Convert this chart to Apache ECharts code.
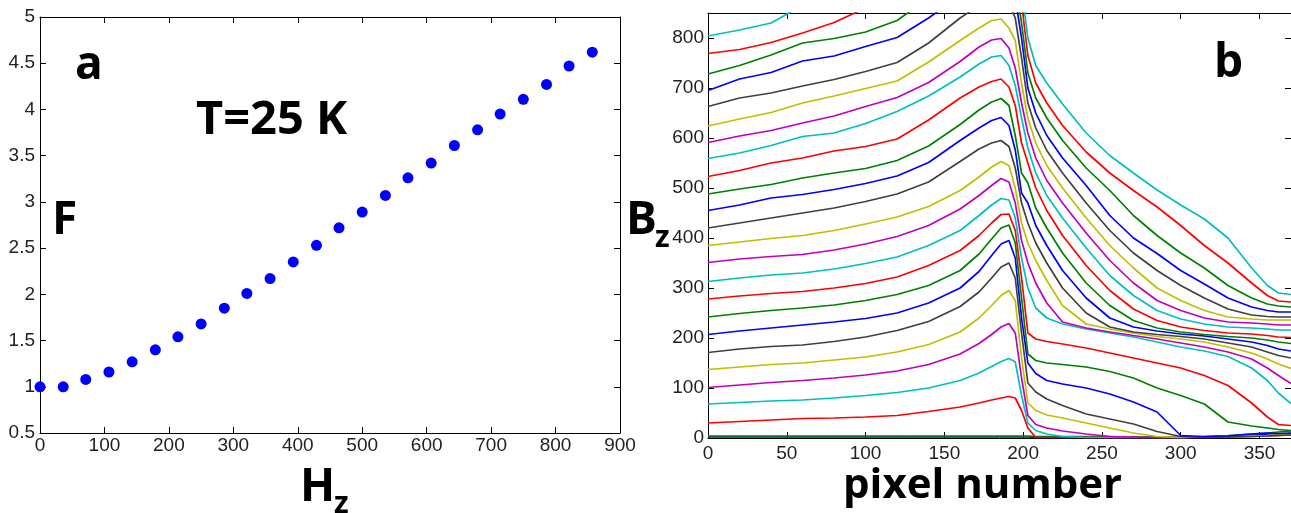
<!DOCTYPE html>
<html><head><meta charset="utf-8">
<script src="https://cdn.jsdelivr.net/npm/echarts@6/dist/echarts.min.js"></script>
<style>html,body{margin:0;padding:0;background:#fff}#c{width:1291px;height:513px}</style>
</head><body><div id="c"></div>
<script>
// Panel a: F versus H_z at T = 25 K
const hz = [0, 36, 71, 107, 143, 179, 214, 250, 286, 321, 357, 393, 429, 464, 500, 536, 571, 607, 643, 679, 714, 750, 786, 821, 857];
const F  = [1.00, 1.00, 1.08, 1.16, 1.27, 1.40, 1.54, 1.68, 1.85, 2.01, 2.17, 2.35, 2.53, 2.72, 2.89, 3.07, 3.26, 3.42, 3.61, 3.78, 3.95, 4.11, 4.27, 4.47, 4.62];

// Panel b: B_z profiles versus pixel number
const pixelX = [0,20,40,60,80,100,120,140,160,172,180,186,191,195,199,203,208,215,225,240,255,270,285,300,315,330,345,355,362,370];
const bz01 = [2,2,2,2,2,2,2,2,2,2,2,2,2,2,2,2,1,1,1,1,1,1,1,1,2,4,6,7,8,9];
const bz02 = [4,4,4,4,4,4,4,4,4,4,4,4,4,4,4,4,3,3,3,3,3,2,2,2,3,5,8,10,12,14];
const bz03 = [30,33,36,39,40,42,45,53,62,70,76,80,83,80,55,20,1,1,1,1,1,1,1,1,1,2,3,4,5,6];
const bz04 = [68,71,74,76,80,85,91,100,115,130,143,153,159,152,85,30,15,8,3,1,1,1,1,1,2,3,4,5,6,7];
const bz05 = [101,106,111,115,120,126,134,147,168,189,207,222,229,210,120,45,27,20,14,8,3,2,1,1,2,3,4,5,6,7];
const bz06 = [137,142,147,150,156,162,172,187,212,240,265,285,295,275,160,70,55,46,40,30,20,10,3,1,2,3,4,5,6,7];
const bz07 = [171,178,183,186,193,202,215,233,263,292,320,342,350,320,210,110,92,78,65,48,38,28,13,3,1,2,3,4,5,6];
const bz08 = [207,214,220,226,232,239,250,270,300,333,365,388,395,360,240,150,129,115,108,100,88,72,52,5,3,4,8,10,9,10];
const bz09 = [242,249,255,260,266,275,287,305,335,368,398,420,426,390,280,168,155,150,147,142,133,120,100,85,68,32,24,20,17,15];
const bz10 = [278,284,289,293,300,309,322,345,375,405,430,447,448,415,320,210,198,193,188,180,170,160,150,140,125,105,70,42,27,25];
const bz11 = [313,320,326,330,338,349,362,385,415,445,466,479,476,440,360,300,260,240,228,218,210,202,192,182,174,163,140,115,90,69];
const bz12 = [351,358,363,367,376,388,403,425,458,485,505,519,512,470,395,350,310,270,232,220,212,205,198,190,182,172,158,140,125,109];
const bz13 = [385,392,399,405,415,428,442,463,495,522,542,553,545,500,430,390,355,315,265,228,218,210,203,198,192,182,170,158,148,139];
const bz14 = [420,430,440,450,460,473,488,512,553,578,590,595,583,540,470,430,390,350,300,250,222,212,207,203,198,190,182,172,165,160];
const bz15 = [455,466,480,487,497,509,524,551,595,620,635,641,625,576,490,470,425,385,335,280,240,222,214,208,204,198,192,185,178,174];
const bz16 = [488,498,507,520,530,539,555,584,627,656,672,679,665,605,530,510,460,420,370,310,265,235,220,212,207,203,200,196,192,189];
const bz17 = [523,535,550,560,574,583,598,636,680,702,713,718,702,665,590,550,500,455,405,345,295,258,235,222,215,210,208,205,202,201];
const bz18 = [559,570,585,603,610,629,653,684,722,748,762,765,745,705,640,580,530,485,440,380,325,285,255,238,228,222,220,218,216,216];
const bz19 = [591,604,615,630,644,663,681,711,753,782,796,799,780,740,670,610,560,515,470,410,355,310,275,255,240,232,230,228,226,226];
const bz20 = [624,638,651,670,684,699,714,752,795,820,835,838,820,795,709,640,590,545,500,440,385,340,300,275,255,242,238,236,236,236];
const bz21 = [663,680,690,704,717,733,751,790,840,865,878,880,870,840,760,670,620,575,530,470,415,370,335,305,280,258,246,243,242,242];
const bz22 = [695,718,731,754,764,783,801,840,885,910,920,922,910,880,800,700,650,605,560,505,445,400,369,335,308,280,262,255,252,252];
const bz23 = [728,745,766,790,799,812,835,880,920,945,955,958,945,910,830,730,680,640,595,540,495,445,405,370,340,305,280,268,264,262];
const bz24 = [769,777,791,810,831,860,890,920,960,985,995,998,985,950,870,765,710,670,625,572,530,495,462,425,385,350,310,285,274,272];
const bz25 = [804,816,830,865,890,910,940,970,1000,1020,1030,1035,1020,990,900,800,745,710,668,610,565,530,496,466,438,400,340,305,290,287];
const profiles = [bz01,bz02,bz03,bz04,bz05,bz06,bz07,bz08,bz09,bz10,bz11,bz12,bz13,bz14,bz15,bz16,bz17,bz18,bz19,bz20,bz21,bz22,bz23,bz24,bz25];
const cycle = ['#0000ff','#008000','#ff0000','#00bfbf','#bf00bf','#bfbf00','#404040'];

const chart = echarts.init(document.getElementById('c'), null, {renderer:'canvas'});
const lbl = {color:'#222', fontSize:19, fontFamily:'"Liberation Sans", Arial, sans-serif'};
function ax(grid, pos, min, max, interval, showLabel, margin){
  return {gridIndex:grid, type:'value', position:pos, min:min, max:max, interval:interval,
    axisLine:{show:true, onZero:false, lineStyle:{color:'#000', width:1}},
    axisTick:{show:true, inside:true, length:6, lineStyle:{color:'#000'}},
    axisLabel:Object.assign({show:showLabel, margin:margin, showMaxLabel: (max % interval === 0)}, lbl),
    splitLine:{show:false}};
}
const lineSeries = profiles.map((p,k)=>({
  type:'line', xAxisIndex:2, yAxisIndex:2, showSymbol:false, symbol:'none', clip:true,
  data: pixelX.map((x,i)=>[x, p[i]]),
  lineStyle:{color:cycle[k%7], width:1.7}, itemStyle:{color:cycle[k%7]}, animation:false, silent:true
}));
const titleFont = '"Open Sans", "DejaVu Sans", sans-serif';
function txt(x,y,s,size){
  return {type:'text', x:x, y:y, silent:true, style:{text:s, fill:'#000', font:'bold '+size+'px '+titleFont, align:'left', verticalAlign:'middle'}};
}
chart.setOption({
  animation:false,
  backgroundColor:'#fff',
  grid:[
    {left:40, top:17, width:580, height:416},
    {left:708, top:13, width:583, height:425}
  ],
  xAxis:[
    ax(0,'bottom',0,900,100,true,3),
    ax(0,'top',0,900,100,false,3),
    ax(1,'bottom',0,370,50,true,6),
    ax(1,'top',0,370,50,false,6)
  ],
  yAxis:[
    ax(0,'left',0.5,5,0.5,true,5),
    ax(0,'right',0.5,5,0.5,false,5),
    ax(1,'left',0,850,100,true,4),
    ax(1,'right',0,850,100,false,4)
  ],
  series:[
    {type:'scatter', xAxisIndex:0, yAxisIndex:0, data:hz.map((h,i)=>[h,F[i]]),
     symbol:'circle', symbolSize:11, itemStyle:{color:'#0000ff', opacity:1}, silent:true}
  ].concat(lineSeries),
  graphic:[
    txt(75,66,'a',46),
    txt(196,121,'T=25 K',47),
    txt(52,221,'F',46),
    txt(300,488,'H',46),
    txt(334,504,'z',30),
    txt(843,486,'pixel number',42),
    txt(626,221,'B',46),
    txt(655,238,'z',30),
    txt(1214,64,'b',46)
  ]
});
</script></body></html>
